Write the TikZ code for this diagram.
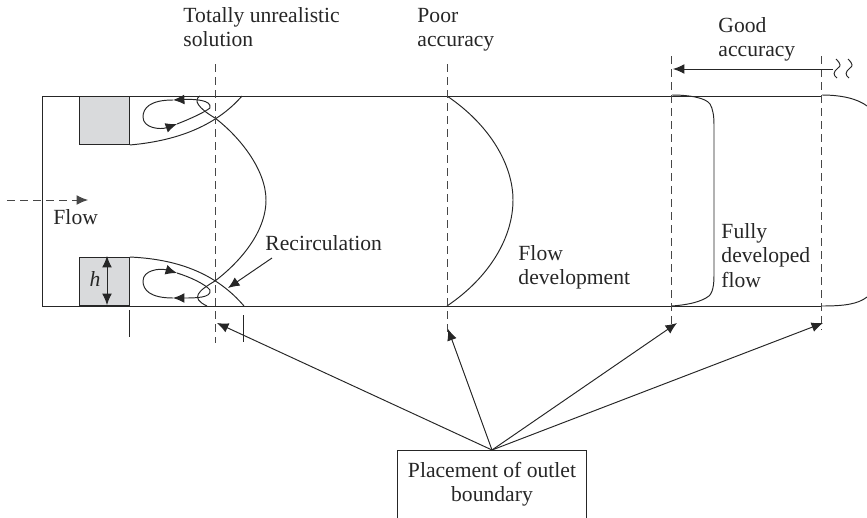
\documentclass[tikz,border=0pt]{standalone}
\usepackage{fontspec}
\setmainfont{Liberation Serif}
\usetikzlibrary{arrows.meta}
\definecolor{blockgray}{HTML}{D9DADC}
\definecolor{inkgray}{HTML}{262626}
\tikzset{
    every node/.style={font=\fontsize{12.3}{13.9}\selectfont, text=inkgray, inner sep=0pt, align=left},
    cutline/.style={line width=0.55pt, dash pattern=on 4.4pt off 3pt, draw=inkgray!85},
    block/.style={draw=inkgray, line width=0.55pt, fill=blockgray, minimum width=50*0.02cm, minimum height=48*0.02cm},
}
\begin{document}
\begin{tikzpicture}[x=0.02cm, y=-0.02cm, >={Latex[length=6.5pt,width=5.6pt]}, line width=0.55pt, draw=inkgray]
    \useasboundingbox (0,0) rectangle (867,518);

    % duct
    \coordinate (duct_tl) at (42,96);
    \coordinate (duct_bl) at (42,306);
    \coordinate (duct_tr) at (822,96);
    \coordinate (duct_br) at (822,306);
    \draw (duct_tr) -- (duct_tl) -- (duct_bl) -- (duct_br);

    \node[block, anchor=north west](block_top) at (79,96) {};
    \node[block, anchor=south west](block_bot) at (79,306) {};

    % shear layers
    \coordinate (shear_top) at (242,96);
    \coordinate (shear_bot) at (244,306);
    \draw (block_top.south east) .. controls (175,141) and (215,127) .. (shear_top);
    \draw (block_bot.north east) .. controls (175,259) and (215,272) .. (shear_bot);

    % recirculation loops
    \coordinate (loop_top) at (210,108);
    \coordinate (loop_top_a) at (173,100);
    \coordinate (loop_top_b) at (177,124);
    \draw[->] (loop_top) .. controls (212,100) and (195,99) .. (loop_top_a);
    \draw[->] (loop_top_a) .. controls (150,100) and (143,108) .. (143,117)
        .. controls (143,128) and (160,130) .. (loop_top_b);
    \draw (loop_top_b) .. controls (190,119) and (205,112) .. (loop_top);

    \coordinate (loop_bot) at (210,290);
    \coordinate (loop_bot_a) at (173,298);
    \coordinate (loop_bot_b) at (177,273);
    \draw[->] (loop_bot) .. controls (212,298) and (195,298) .. (loop_bot_a);
    \draw[->] (loop_bot_a) .. controls (150,298) and (143,290) .. (143,281)
        .. controls (143,270) and (160,268) .. (loop_bot_b);
    \draw (loop_bot_b) .. controls (190,277) and (205,284) .. (loop_bot);

    % profiles
    \coordinate (prof1_t) at (200,96);
    \coordinate (prof1_m) at (266,200);
    \coordinate (prof1_b) at (207,306);
    \draw (prof1_t) .. controls (193,100) and (198,108) .. (215,118)
        .. controls (240,137) and (266,170) .. (prof1_m)
        .. controls (266,232) and (240,262) .. (215,281)
        .. controls (198,291) and (190,298) .. (prof1_b);
    \coordinate (prof2_t) at (447,96);
    \coordinate (prof2_m) at (513,200);
    \coordinate (prof2_b) at (447,306);
    \draw (prof2_t) .. controls (490,125) and (513,165) .. (prof2_m)
        .. controls (513,237) and (490,277) .. (prof2_b);
    \coordinate (prof3_t) at (672,95);
    \coordinate (prof3_b) at (672,306);
    \draw (prof3_t) .. controls (690,95) and (706,98) .. (710,104)
        .. controls (713,109) and (714,116) .. (714,125) -- (714,276)
        .. controls (714,290) and (711,296) .. (706,298)
        .. controls (697,303) and (685,305) .. (prof3_b);
    \coordinate (prof4_t) at (822,95);
    \coordinate (prof4_te) at (867,106);
    \coordinate (prof4_b) at (822,306);
    \coordinate (prof4_be) at (867,297);
    \draw (prof4_t) .. controls (842,95) and (858,99) .. (prof4_te);
    \draw (prof4_b) .. controls (845,306) and (858,304) .. (prof4_be);

    % outlet planes
    \coordinate (plane1_t) at (215,64);
    \coordinate (plane1_b) at (215,343);
    \coordinate (plane2_t) at (447,64);
    \coordinate (plane2_b) at (447,335);
    \coordinate (plane3_t) at (671,56);
    \coordinate (plane3_b) at (671,330);
    \coordinate (plane4_t) at (821,56);
    \coordinate (plane4_b) at (821,330);
    \draw[cutline] (plane1_t) -- (plane1_b);
    \draw[cutline] (plane2_t) -- (plane2_b);
    \draw[cutline] (plane3_t) -- (plane3_b);
    \draw[cutline] (plane4_t) -- (plane4_b);

    % ticks
    \coordinate (tick1_t) at (129,310);
    \coordinate (tick1_b) at (129,337);
    \coordinate (tick2_t) at (243,315);
    \coordinate (tick2_b) at (243,342);
    \draw (tick1_t) -- (tick1_b);
    \draw (tick2_t) -- (tick2_b);

    % flow
    \coordinate (flow_s) at (7,200);
    \coordinate (flow_e) at (88,200);
    \draw[cutline, ->] (flow_s) -- (flow_e);
    \node[anchor=base west](flow) at (53,224) {Flow};

    % step height
    \node[anchor=center](h) at (95,279) {\textit{h}};
    \coordinate (h_t) at (107,256);
    \coordinate (h_b) at (107,305);
    \path[<->] (h_t) edge (h_b);

    % good accuracy range with break
    \coordinate (good_s) at (833,69);
    \coordinate (good_e) at (673,69);
    \path[->] (good_s) edge (good_e);
    \draw (836,59) .. controls (841,64) and (841,66) .. (838,68) .. controls (833,72) and (833,75) .. (837,78);
    \draw (848,59) .. controls (853,64) and (853,66) .. (850,68) .. controls (845,72) and (845,75) .. (849,78);

    % labels
    \node[anchor=north west](unrealistic) at (183,7) {Totally unrealistic\\solution};
    \node[anchor=north west](poor) at (417,7.6) {Poor\\accuracy};
    \node[anchor=north west](good) at (718,17) {Good\\accuracy};
    \node[anchor=base west](recirc) at (265,250) {Recirculation};
    \node[anchor=north west](develop) at (518,245) {Flow\\development};
    \node[anchor=north west](developed) at (721,223) {Fully\\developed\\flow};

    \coordinate (recirc_tip) at (228,288);
    \coordinate (recirc_s) at (272,258);
    \path[->] (recirc_s) edge (recirc_tip);

    % outlet box, runs off the bottom edge
    \node[align=center, anchor=north, minimum width=188*0.02cm, minimum height=68*0.02cm](outlet) at (492,450) {Placement of outlet\\boundary};
    \draw (outlet.south west) -- (outlet.north west) -- (outlet.north east) -- (outlet.south east);
    \coordinate (outlet_d1) at (217,323);
    \coordinate (outlet_d2) at (448,329);
    \coordinate (outlet_d3) at (677,323);
    \coordinate (outlet_d4) at (823,323);
    \path[->] (outlet.north) edge (outlet_d1);
    \path[->] (outlet.north) edge (outlet_d2);
    \path[->] (outlet.north) edge (outlet_d3);
    \path[->] (outlet.north) edge (outlet_d4);
\end{tikzpicture}
\end{document}
